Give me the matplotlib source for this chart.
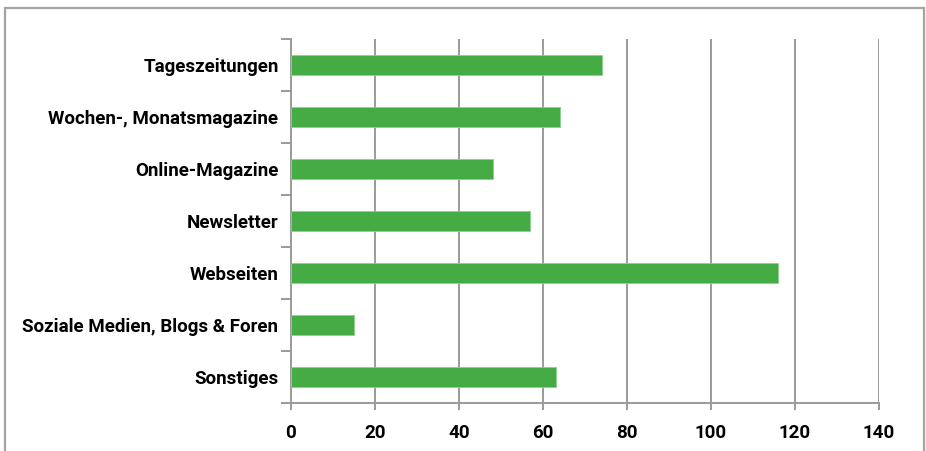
import matplotlib.pyplot as plt
from matplotlib.patches import Rectangle
import numpy as np

categories = ["Tageszeitungen", "Wochen-, Monatsmagazine", "Online-Magazine",
              "Newsletter", "Webseiten", "Soziale Medien, Blogs & Foren", "Sonstiges"]
values = [74, 64, 48, 57, 116, 15, 63]
x_ticks = [0, 20, 40, 60, 80, 100, 120, 140]

plt.rcParams['font.family'] = ['Roboto', 'DejaVu Sans']

fig = plt.figure(figsize=(9.26, 4.51), dpi=100)
ax = fig.add_axes([291 / 926, 1 - 403 / 451, 588 / 926, 364 / 451])

# figure frame
fig.patches.append(Rectangle((4.5 / 926, -0.05), 919.5 / 926, 1.05 - 7.5 / 451,
                             transform=fig.transFigure, fill=False,
                             edgecolor='#a3a3a3', linewidth=1.6))

pos = np.arange(len(categories))
ax.barh(pos, values, height=0.37, color='#45ab45', edgecolor='#8fd08f',
        linewidth=0.6, zorder=3)

ax.set_xlim(0, 140)
ax.set_ylim(len(categories) - 0.5, -0.5)
ax.set_xticks(x_ticks)
ax.set_xticklabels([str(t) for t in x_ticks], fontsize=13.5, fontweight='bold')
ax.xaxis.grid(True, color='#9a9a9a', linewidth=1.4, zorder=0)

ax.set_yticks(np.arange(-0.5, len(categories), 1))
ax.set_yticklabels([])
ax.set_yticks(pos, minor=True)
ax.set_yticklabels(categories, minor=True, fontsize=13.5, fontweight='bold')
ax.tick_params(axis='y', which='minor', length=0, pad=9)
ax.tick_params(axis='y', which='major', length=7, width=1.4, color='#9a9a9a')
ax.tick_params(axis='x', length=5, width=1.4, color='#9a9a9a', pad=10)

for side in ['top', 'right']:
    ax.spines[side].set_visible(False)
for side in ['left', 'bottom']:
    ax.spines[side].set_color('#9a9a9a')
    ax.spines[side].set_linewidth(1.4)

fig.savefig('out.png', dpi=100)
